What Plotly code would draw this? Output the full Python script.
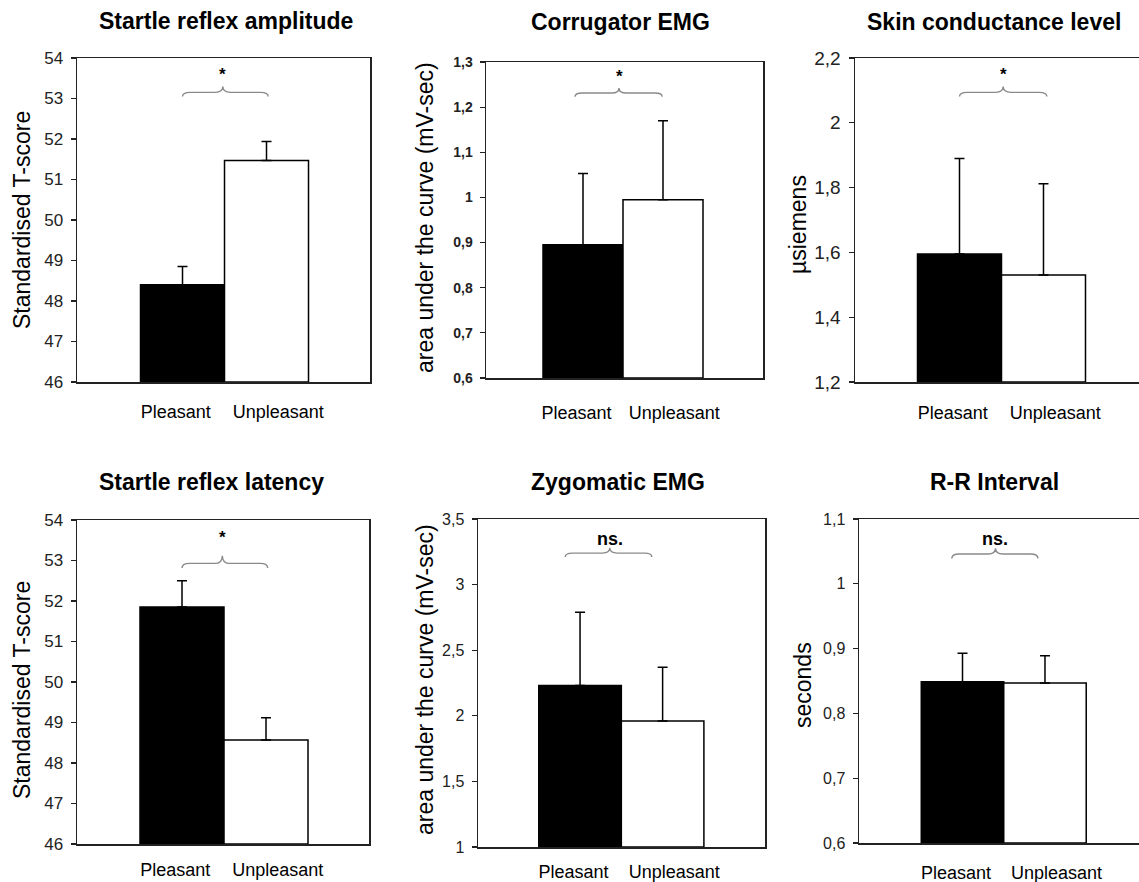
import plotly.graph_objects as go

# ---------------- data ----------------
categories = ["Pleasant", "Unpleasant"]

titles = ["Startle reflex amplitude", "Corrugator EMG", "Skin conductance level",
          "Startle reflex latency", "Zygomatic EMG", "R-R Interval"]
y_titles = ["Standardised T-score", "area under the curve (mV-sec)", "\u00b5siemens",
            "Standardised T-score", "area under the curve (mV-sec)", "seconds"]

startle_amp_mean = [48.40, 51.47]
startle_amp_err = [0.45, 0.47]
corrugator_mean = [0.895, 0.995]
corrugator_err = [0.158, 0.175]
scl_mean = [1.595, 1.530]
scl_err = [0.295, 0.282]
startle_lat_mean = [51.85, 48.57]
startle_lat_err = [0.65, 0.55]
zygomatic_mean = [2.23, 1.96]
zygomatic_err = [0.56, 0.41]
rr_mean = [0.849, 0.847]
rr_err = [0.044, 0.042]

significance = ["*", "*", "*", "*", "ns.", "ns."]

y_ranges = [(46, 54), (0.6, 1.3), (1.2, 2.2), (46, 54), (1, 3.5), (0.6, 1.1)]
y_dticks = [1, 0.1, 0.2, 1, 0.5, 0.1]

means = [startle_amp_mean, corrugator_mean, scl_mean, startle_lat_mean, zygomatic_mean, rr_mean]
errs = [startle_amp_err, corrugator_err, scl_err, startle_lat_err, zygomatic_err, rr_err]

# ---------------- layout geometry (pixels) ----------------
W, H = 1139, 882
# left, right, top, bottom of each plot area
boxes = [(77, 370, 58, 382), (486, 763, 62, 378), (855, 1139, 58, 382),
         (77, 369, 520, 844), (478, 765, 519, 847), (859, 1139, 519, 843)]
x_ranges = [(-1.256, 2.232), (-1.2125, 2.25), (-1.244, 2.137),
            (-1.25, 2.226), (-1.236, 2.24), (-1.255, 2.14)]
right_open = [False, False, True, False, False, True]
tick_sizes = [17, 14, 19, 17, 16, 16]
tick_bold = [False, True, False, False, False, False]
xlabel_gap = [13, 18, 14, 9, 8, 13]
title_pos = [(226, 21), (620, 22), (994, 22), (211, 482), (618, 482), (994, 482)]
ytitle_pos = [(22, 220), (425, 218), (798, 225), (22, 690), (425, 680), (803, 685)]
# brace: x0, xm, x1 (bar units), y fractions: end, flat, peak, label
braces = [(0.0, 0.48, 1.02, 0.881, 0.894, 0.912, 0.950),
          (-0.1, 0.45, 0.99, 0.890, 0.902, 0.918, 0.955),
          (0.0, 0.52, 1.04, 0.881, 0.894, 0.912, 0.950),
          (0.0, 0.48, 1.02, 0.852, 0.866, 0.890, 0.945),
          (-0.18, 0.36, 0.87, 0.884, 0.896, 0.912, 0.940),
          (-0.13, 0.40, 0.915, 0.878, 0.892, 0.910, 0.937)]

FONT = "Liberation Sans, Arial, sans-serif"

fig = go.Figure()
layout = dict(
    template="none",
    width=W, height=H, margin=dict(l=0, r=0, t=0, b=0, pad=0, autoexpand=False),
    paper_bgcolor="white", plot_bgcolor="white",
    showlegend=False, separators=", ", font=dict(family=FONT, color="black"),
    bargap=0,
)
shapes = []
annotations = []

for i in range(6):
    n = i + 1
    xa = "x" if n == 1 else f"x{n}"
    ya = "y" if n == 1 else f"y{n}"
    l, r, t, b = boxes[i]
    lo, hi = y_ranges[i]

    fig.add_trace(go.Bar(
        x=[0, 1], y=[m - lo for m in means[i]], width=1, base=lo,
        marker=dict(color=["black", "white"], line=dict(color="black", width=1.5)),
        error_y=dict(type="data", array=errs[i], arrayminus=[0, 0], symmetric=False,
                     color="black", thickness=1.5, width=5),
        xaxis=xa, yaxis=ya, hoverinfo="skip",
    ))

    layout[f"xaxis{'' if n == 1 else n}"] = dict(
        domain=[l / W, r / W], range=list(x_ranges[i]), anchor=ya, automargin=False,
        showgrid=False, zeroline=False, showline=True, linecolor="#222", linewidth=1.5,
        mirror=True, tickvals=[-0.08, 1.14], ticktext=categories,
        ticks="outside", ticklen=xlabel_gap[i], tickcolor="rgba(0,0,0,0)",
        tickfont=dict(size=18, family=FONT, color="black"),
    )
    layout[f"yaxis{'' if n == 1 else n}"] = dict(
        domain=[1 - b / H, 1 - t / H], range=[lo, hi], anchor=xa, automargin=False,
        showgrid=False, zeroline=False, showline=True, linecolor="#222", linewidth=1.5,
        mirror=not right_open[i], dtick=y_dticks[i], tick0=lo,
        ticks="outside", ticklen=5, tickwidth=1.2, tickcolor="#222",
        ticklabelstandoff=4,
        tickfont=dict(size=tick_sizes[i], family=FONT, color="#222",
                      weight="bold" if tick_bold[i] else "normal"),
    )

    # title
    annotations.append(dict(
        text=f"<b>{titles[i]}</b>", x=title_pos[i][0] / W, y=1 - title_pos[i][1] / H,
        xref="paper", yref="paper", showarrow=False, xanchor="center", yanchor="middle",
        font=dict(size=23, family=FONT, color="black")))
    # y title
    annotations.append(dict(
        text=y_titles[i], x=ytitle_pos[i][0] / W, y=1 - ytitle_pos[i][1] / H,
        xref="paper", yref="paper", showarrow=False, textangle=-90,
        xanchor="center", yanchor="middle",
        font=dict(size=23, family=FONT, color="black")))

    # significance brace
    x0, xm, x1, fe, ff, fp, fl = braces[i]
    ye, yf, yp, yl = [lo + f * (hi - lo) for f in (fe, ff, fp, fl)]
    d = 0.09
    path = (f"M {x0},{ye} Q {x0},{yf} {x0 + d},{yf} L {xm - d},{yf} "
            f"Q {xm},{yf} {xm},{yp} Q {xm},{yf} {xm + d},{yf} "
            f"L {x1 - d},{yf} Q {x1},{yf} {x1},{ye}")
    shapes.append(dict(type="path", path=path, xref=xa, yref=ya,
                       line=dict(color="#8a8a8a", width=1.4)))
    annotations.append(dict(
        text=f"<b>{significance[i]}</b>", x=xm, y=yl, xref=xa, yref=ya, showarrow=False,
        xanchor="center", yanchor="middle",
        font=dict(size=18 if significance[i] != "*" else 17, family=FONT, color="black")))

layout["shapes"] = shapes
layout["annotations"] = annotations
fig.update_layout(**layout)
fig.write_html("out.html", config={"displayModeBar": False, "staticPlot": True},
               post_script="document.body.style.margin='0';document.body.style.overflow='hidden';")
